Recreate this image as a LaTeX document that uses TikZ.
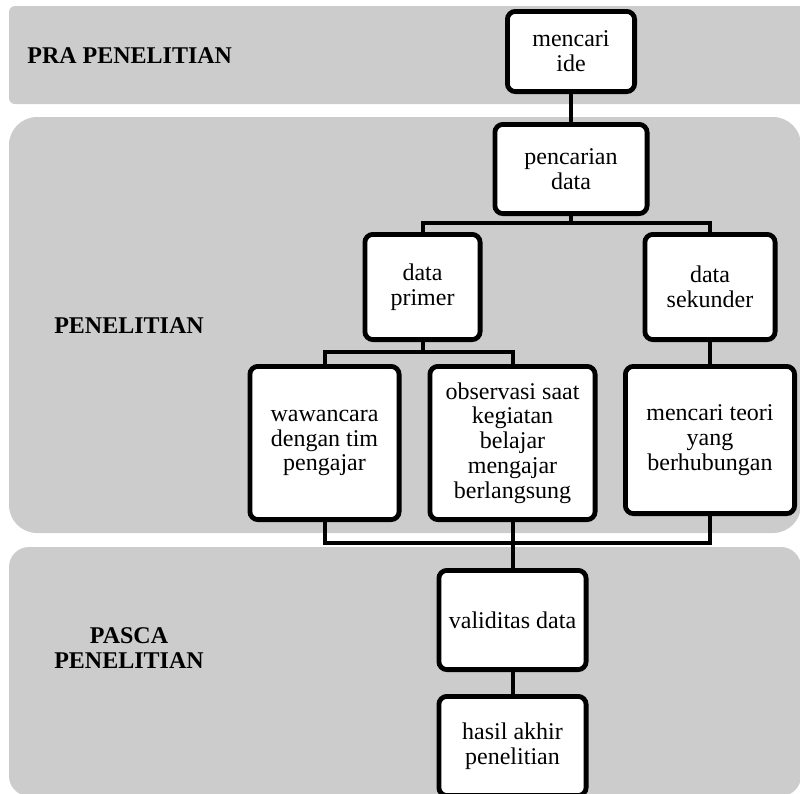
\documentclass[tikz,border=0pt]{standalone}
\usepackage{fontspec}
\setmainfont{Liberation Serif}
\usetikzlibrary{positioning}

\begin{document}
\begin{tikzpicture}[
  x=0.5pt, y=-0.5pt,
  font=\fontsize{12pt}{12.4pt}\selectfont,
  lane/.style={fill=black!20},
  lbl/.style={font=\fontsize{12pt}{12.4pt}\selectfont\bfseries, align=center, inner sep=0pt},
  blk/.style={draw, line width=2.4pt, fill=white, rounded corners=4pt, align=center, inner sep=2pt},
  con/.style={line width=2pt}
]
\useasboundingbox (0,0) rectangle (800,794);
\clip (0,0) rectangle (800,794);

% Lanes
\fill[lane, rounded corners=3pt] (9,6) rectangle (812,104);
\fill[lane, rounded corners=14pt] (9,117) rectangle (801,533);
\fill[lane, rounded corners=10pt] (9,547) rectangle (801,796);

\node[lbl, anchor=base west] (pra) at (27,63) {PRA PENELITIAN};
\node[lbl, anchor=base] (pen) at (129,333) {PENELITIAN};
\node[lbl, anchor=base] (pasca) at (129,668) {PASCA\\PENELITIAN};

% Top of the tree
\node[blk, minimum width=63.6pt, minimum height=40.1pt] (ide) at (571,51.5) {mencari\\ide};
\node[blk, below=14pt of ide, minimum width=76.1pt, minimum height=44.6pt] (cari) {pencarian\\data};

% Data sources
\node[blk, below=8pt of cari, xshift=-74.25pt, minimum width=57.6pt, minimum height=52.6pt] (primer)
      {data\\primer};
\node[blk, below=8pt of cari, xshift=69.5pt, minimum width=65.1pt, minimum height=52.6pt] (sekunder)
      {data\\sekunder};

\node[blk, below=11pt of primer, xshift=-49pt, minimum width=74.6pt, minimum height=76.6pt] (wawan)
      {wawancara\\dengan tim\\pengajar};
\node[blk, below=11pt of primer, xshift=45pt, minimum width=82.6pt, minimum height=76.6pt] (obs)
      {observasi saat\\kegiatan\\belajar\\mengajar\\berlangsung};
\node[blk, below=11pt of sekunder, minimum width=84.6pt, minimum height=73.6pt] (teori)
      {mencari teori\\yang\\berhubungan};

% Result
\node[blk, below=23pt of obs, minimum width=73.6pt, minimum height=49.6pt] (valid) {validitas data};
\node[blk, below=11pt of valid, minimum width=73.6pt, minimum height=49.6pt] (hasil)
      {hasil akhir\\penelitian};

% Connections
\coordinate[below=3.5pt of cari.south] (split1);
\coordinate[below=5pt of primer.south] (split2);
\coordinate[below=10.5pt of obs.south] (join);
\draw[con] (ide) -- (cari);
\draw[con] (cari.south) -- (split1);
\draw[con] (primer.north) |- (split1) -| (sekunder.north);
\draw[con] (primer.south) -- (split2);
\draw[con] (wawan.north) |- (split2) -| (obs.north);
\draw[con] (sekunder) -- (teori);
\draw[con] (wawan.south) |- (join) -| (teori.south);
\draw[con] (obs.south) -- (valid.north);
\draw[con] (valid) -- (hasil);
\end{tikzpicture}
\end{document}
